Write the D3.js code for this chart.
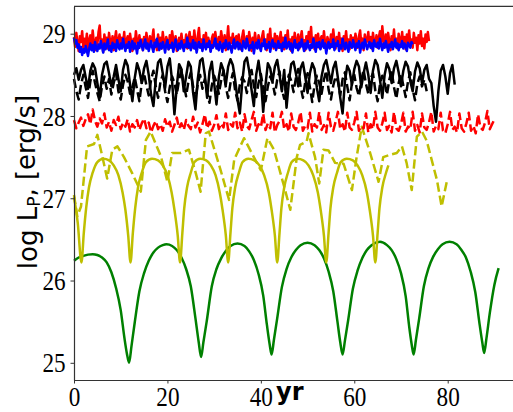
<!DOCTYPE html>
<html>
<head>
<meta charset="utf-8">
<script src="https://cdn.jsdelivr.net/npm/d3@7"></script>
<style>
  body { margin: 0; background: #fff; }
  svg { display: block; }
</style>
</head>
<body>
<svg id="chart" width="513" height="412"></svg>
<script>
// red / blue solid runs are sampled every quarter year, the other noisy runs every half year
const stepFine = 0.25;
const step = 0.5;

const redSolid = [
  28.96, 28.84, 29.01, 28.88, 28.79, 28.97, 28.90, 29.03, 28.83, 28.94, 28.86, 29.00, 28.81, 28.92, 28.98, 28.85, 29.04, 28.89, 28.80, 28.95,
  28.87, 29.02, 29.10, 28.84, 28.93, 28.78, 28.99, 28.88, 28.95, 28.82, 29.01, 28.90, 28.85, 28.97, 28.80, 28.93, 29.03, 28.86, 28.91, 28.99,
  28.83, 28.95, 28.88, 29.02, 28.81, 28.92, 28.97, 28.84, 29.00, 28.89, 28.79, 28.94, 28.86, 29.03, 28.91, 28.82, 28.98, 28.87, 28.93, 28.80,
  28.96, 28.85, 29.01, 28.90, 28.83, 28.97, 28.88, 28.94, 29.05, 28.84, 28.92, 28.80, 28.99, 28.87, 28.95, 28.82, 29.02, 28.89, 28.85, 28.96,
  28.91, 28.81, 28.98, 28.86, 29.03, 28.93, 28.84, 28.97, 28.79, 28.90, 28.95, 28.83, 29.00, 28.88, 28.92, 28.85, 28.99, 28.82, 28.94, 29.02,
  28.87, 28.96, 28.83, 29.04, 28.90, 28.80, 28.97, 29.07, 28.86, 28.93, 28.81, 28.98, 28.89, 29.01, 28.84, 28.95, 28.88, 28.79, 28.94, 28.99,
  28.85, 29.02, 28.91, 28.82, 28.96, 28.87, 29.03, 28.93, 28.84, 28.98, 28.80, 28.92, 29.09, 28.86, 28.95, 28.89, 29.00, 28.83, 28.94, 28.97,
  28.85, 28.99, 28.88, 28.81, 28.96, 29.04, 28.90, 28.84, 28.97, 28.87, 29.02, 28.92, 28.79, 28.95, 28.86, 29.01, 28.89, 28.83, 28.98, 28.91,
  28.84, 28.96, 29.03, 28.87, 28.93, 28.80, 28.99, 28.90, 29.06, 28.85, 28.94, 28.82, 29.00, 28.88, 28.97, 28.83, 28.92, 29.02, 28.86, 28.95,
  28.81, 28.98, 28.89, 29.04, 28.85, 28.93, 28.79, 28.96, 28.87, 29.01, 28.91, 28.84, 28.99, 28.82, 28.94, 29.03, 28.88, 28.92, 28.80, 28.97,
  28.86, 29.02, 28.90, 29.08, 28.84, 28.95, 28.81, 28.98, 28.88, 29.00, 28.83, 28.93, 28.97, 28.85, 29.03, 28.89, 28.80, 28.96, 28.91, 28.84,
  28.99, 28.87, 29.05, 28.92, 28.82, 28.96, 28.88, 29.01, 28.85, 28.94, 28.79, 28.97, 28.90, 29.03, 28.86, 28.93, 28.81, 28.98, 28.89, 28.95,
  28.84, 29.00, 28.91, 28.83, 28.97, 29.04, 28.87, 28.94, 28.80, 28.99, 28.88, 28.92, 29.02, 28.85, 28.96, 28.82, 29.01, 28.90, 28.86, 28.98,
  28.83, 28.95, 29.03, 28.88, 29.09, 28.93, 28.84, 28.99, 28.86, 29.01, 28.91, 28.80, 28.97, 28.89, 29.05, 28.85, 28.94, 28.82, 29.00, 28.92,
  28.87, 29.02, 28.84, 28.96, 28.81, 28.99, 28.90, 29.04, 28.86, 28.93, 28.83, 29.01, 28.89, 28.95, 28.80, 28.98, 28.88, 29.03, 28.85, 28.94,
  28.82, 28.99, 28.90, 29.02, 28.91
];

const blueSolid = [
  28.95, 28.88, 28.92, 28.83, 28.87, 28.78, 28.84, 28.74, 28.81, 28.77, 28.85, 28.79, 28.73, 28.82, 28.88, 28.80, 28.86, 28.78, 28.90, 28.83,
  28.79, 28.87, 28.82, 28.91, 28.84, 28.77, 28.88, 28.81, 28.86, 28.93, 28.80, 28.85, 28.78, 28.89, 28.83, 28.87, 28.79, 28.92, 28.84, 28.81,
  28.88, 28.82, 28.94, 28.85, 28.79, 28.87, 28.83, 28.90, 28.78, 28.86, 28.91, 28.81, 28.88, 28.84, 28.76, 28.89, 28.83, 28.92, 28.86, 28.80,
  28.87, 28.93, 28.82, 28.88, 28.79, 28.85, 28.91, 28.83, 28.78, 28.89, 28.84, 28.94, 28.86, 28.80, 28.88, 28.82, 28.90, 28.85, 28.77, 28.87,
  28.92, 28.81, 28.86, 28.83, 28.89, 28.78, 28.85, 28.93, 28.84, 28.80, 28.88, 28.82, 28.91, 28.86, 28.79, 28.87, 28.84, 28.95, 28.83, 28.88,
  28.80, 28.86, 28.92, 28.82, 28.89, 28.77, 28.85, 28.90, 28.83, 28.87, 28.79, 28.93, 28.85, 28.81, 28.88, 28.84, 28.91, 28.78, 28.86, 28.83,
  28.89, 28.94, 28.82, 28.87, 28.80, 28.90, 28.85, 28.78, 28.88, 28.83, 28.92, 28.86, 28.81, 28.89, 28.84, 28.77, 28.87, 28.93, 28.82, 28.86,
  28.90, 28.81, 28.88, 28.84, 28.79, 28.91, 28.85, 28.82, 28.94, 28.87, 28.80, 28.86, 28.83, 28.90, 28.76, 28.85, 28.89, 28.82, 28.92, 28.84,
  28.79, 28.88, 28.85, 28.93, 28.81, 28.87, 28.83, 28.90, 28.78, 28.86, 28.92, 28.84, 28.88, 28.80, 28.85, 28.91, 28.83, 28.87, 28.79, 28.89,
  28.84, 28.95, 28.82, 28.86, 28.90, 28.81, 28.88, 28.77, 28.85, 28.92, 28.83, 28.87, 28.80, 28.89, 28.84, 28.93, 28.86, 28.79, 28.88, 28.82,
  28.91, 28.85, 28.80, 28.87, 28.83, 28.94, 28.86, 28.78, 28.89, 28.84, 28.90, 28.81, 28.86, 28.92, 28.83, 28.88, 28.76, 28.85, 28.90, 28.82,
  28.87, 28.84, 28.93, 28.80, 28.88, 28.85, 28.91, 28.79, 28.86, 28.82, 28.94, 28.87, 28.81, 28.89, 28.84, 28.78, 28.90, 28.85, 28.83, 28.92,
  28.86, 28.80, 28.88, 28.84, 28.91, 28.77, 28.85, 28.89, 28.82, 28.93, 28.87, 28.81, 28.86, 28.90, 28.83, 28.88, 28.79, 28.92, 28.85, 28.84,
  28.89, 28.82, 28.94, 28.86, 28.80, 28.88, 28.83, 28.91, 28.85, 28.78, 28.87, 28.84, 28.90, 28.81, 28.86, 28.93, 28.83, 28.88, 28.80, 28.87,
  28.84, 28.91, 28.82, 28.88, 28.85, 28.79, 28.89, 28.86, 28.83, 28.90, 28.87
];

const blackSolid = [
  28.50, 28.58, 28.44, 28.56, 28.62, 28.47, 28.33, 28.55, 28.64, 28.58,
  28.40, 28.22, 28.50, 28.63, 28.66, 28.52, 28.36, 28.48, 28.62, 28.45,
  28.30, 28.56, 28.68, 28.61, 28.38, 28.18, 28.46, 28.64, 28.55, 28.40,
  28.58, 28.67, 28.50, 28.26, 28.12, 28.44, 28.65, 28.69, 28.52, 28.34,
  28.60, 28.70, 28.42, 28.02, 28.36, 28.63, 28.57, 28.30, 28.48, 28.66,
  28.60, 28.28, 28.08, 28.45, 28.67, 28.70, 28.50, 28.22, 28.54, 28.66,
  28.40, 28.14, 28.47, 28.64, 28.56, 28.38, 28.60, 28.69, 28.62, 28.44,
  28.20, 28.03, 28.40, 28.66, 28.71, 28.55, 28.32, 28.12, 28.50, 28.67,
  28.46, 28.05, 28.38, 28.64, 28.58, 28.42, 28.60, 28.68, 28.50, 28.30,
  28.56, 28.10, 28.42, 28.63, 28.66, 28.52, 28.36, 28.58, 28.65, 28.48,
  28.28, 28.52, 28.64, 28.57, 28.34, 28.18, 28.48, 28.62, 28.68, 28.54,
  28.40, 28.58, 28.66, 28.46, 28.22, 28.03, 28.42, 28.61, 28.55, 28.38,
  28.57, 28.67, 28.60, 28.35, 28.52, 28.65, 28.50, 28.28, 28.55, 28.68,
  28.62, 28.44, 28.22, 28.50, 28.64, 28.57, 28.40, 28.58, 28.67, 28.53,
  28.36, 28.55, 28.66, 28.60, 28.42, 28.30, 28.54, 28.65, 28.58, 28.40,
  28.56, 28.62, 28.45, 28.40, 28.12, 27.93, 28.30, 28.55, 28.62, 28.48,
  28.27, 28.52, 28.62, 28.38
];

const blackDashed = [
  28.45, 28.30, 28.20, 28.38, 28.50, 28.35, 28.22, 28.42, 28.55, 28.40,
  28.28, 28.18, 28.36, 28.48, 28.33, 28.45, 28.26, 28.40, 28.52, 28.30,
  28.20, 28.38, 28.50, 28.42, 28.27, 28.35, 28.47, 28.32, 28.18, 28.40,
  28.52, 28.37, 28.25, 28.44, 28.55, 28.36, 28.22, 28.41, 28.50, 28.30,
  28.17, 28.35, 28.48, 28.40, 28.26, 28.44, 28.56, 28.38, 28.24, 28.42,
  28.53, 28.36, 28.20, 28.39, 28.50, 28.33, 28.45, 28.28, 28.16, 28.37,
  28.49, 28.41, 28.27, 28.43, 28.55, 28.35, 28.22, 28.40, 28.52, 28.31,
  28.19, 28.38, 28.47, 28.42, 28.28, 28.45, 28.56, 28.37, 28.23, 28.40,
  28.51, 28.34, 28.18, 28.36, 28.48, 28.41, 28.26, 28.44, 28.54, 28.33,
  28.21, 28.39, 28.50, 28.43, 28.29, 28.46, 28.57, 28.36, 28.22, 28.41,
  28.52, 28.35, 28.17, 28.38, 28.49, 28.40, 28.27, 28.44, 28.55, 28.32,
  28.20, 28.37, 28.48, 28.42, 28.25, 28.45, 28.53, 28.36, 28.19, 28.40,
  28.50, 28.34, 28.24, 28.43, 28.56, 28.39, 28.27, 28.45, 28.52, 28.31,
  28.18, 28.38, 28.49, 28.41, 28.26, 28.44, 28.55, 28.35, 28.21, 28.40,
  28.51, 28.37, 28.23, 28.42, 28.53, 28.33, 28.19, 28.39, 28.48, 28.36,
  28.44, 28.30
];

const redDashed = [
  27.95, 27.85, 27.92, 27.98, 27.88, 27.96, 28.02, 27.90, 28.08, 27.94,
  27.87, 27.97, 27.91, 28.03, 27.86, 27.93, 27.82, 27.95, 27.89, 27.99,
  27.84, 27.92, 27.87, 27.96, 27.81, 27.90, 27.86, 27.95, 27.83, 27.91,
  27.97, 27.85, 27.92, 27.80, 27.88, 27.94, 27.84, 27.90, 27.82, 27.96,
  27.87, 27.93, 27.81, 27.89, 27.98, 27.85, 27.91, 27.83, 27.95, 27.88,
  27.84, 27.99, 27.86, 27.92, 27.80, 27.90, 28.02, 27.85, 27.93, 27.82,
  27.89, 28.01, 27.84, 27.91, 27.86, 28.03, 27.83, 27.90, 27.87, 28.04,
  27.85, 27.92, 27.81, 28.02, 27.88, 27.84, 27.95, 28.05, 27.82, 27.90,
  27.86, 28.03, 27.83, 27.91, 27.85, 28.04, 27.80, 27.89, 27.94, 28.05,
  27.84, 27.90, 27.81, 28.03, 27.87, 27.83, 27.92, 28.05, 27.82, 27.88,
  27.85, 28.04, 27.81, 27.90, 27.86, 28.05, 27.83, 27.89, 27.80, 28.04,
  27.87, 27.82, 27.93, 28.05, 27.84, 27.90, 27.81, 28.04, 27.86, 27.83,
  27.92, 28.05, 27.82, 27.88, 27.85, 28.03, 27.80, 27.90, 27.84, 28.05,
  27.86, 27.82, 27.91, 28.04, 27.83, 27.88, 27.80, 28.05, 27.85, 27.82,
  27.90, 28.04, 27.81, 27.87, 27.84, 28.05, 27.82, 27.89, 27.80, 28.03,
  27.86, 27.83, 27.92, 28.05, 27.81, 27.88, 27.84, 28.04, 27.82, 27.79,
  27.90, 28.05, 27.83, 27.87, 27.80, 28.03, 27.85, 27.81, 27.91, 28.04,
  27.82, 27.88, 27.79, 28.02, 27.86, 27.83, 27.92, 28.06, 27.84, 27.90,
  27.96
];

// smooth runs, read as [yr, log L] pairs
const yellowSolid = [
  [0, 27.02], [0.8, 26.70], [1.6, 26.22],
  [2.1, 26.58], [2.6, 26.88], [3.2, 27.13], [4.0, 27.31], [5.0, 27.44], [6.3, 27.48],
  [7.5, 27.46], [8.5, 27.40], [9.5, 27.28], [10.4, 27.07], [11.0, 26.86], [11.6, 26.55], [12.1, 26.22],
  [12.6, 26.58], [13.1, 26.88], [13.7, 27.13], [14.5, 27.31], [15.4, 27.44], [16.7, 27.48],
  [18.0, 27.46], [19.0, 27.40], [20.0, 27.28], [20.9, 27.07], [21.5, 26.86], [22.2, 26.55], [22.7, 26.22],
  [23.2, 26.58], [23.6, 26.88], [24.2, 27.13], [25.0, 27.31], [25.8, 27.44], [27.0, 27.48],
  [28.3, 27.46], [29.3, 27.40], [30.3, 27.28], [31.2, 27.07], [31.8, 26.86], [32.5, 26.55], [33.0, 26.22],
  [33.5, 26.58], [33.9, 26.88], [34.5, 27.13], [35.3, 27.31], [36.1, 27.44], [37.3, 27.48],
  [38.6, 27.46], [39.7, 27.40], [40.7, 27.28], [41.7, 27.07], [42.3, 26.86], [43.0, 26.55], [43.5, 26.22],
  [44.0, 26.58], [44.4, 26.88], [45.0, 27.13], [45.8, 27.31], [46.6, 27.44], [47.8, 27.48],
  [49.1, 27.46], [50.2, 27.40], [51.2, 27.28], [52.2, 27.07], [52.8, 26.86], [53.5, 26.55], [54.0, 26.22],
  [54.5, 26.58], [54.9, 26.88], [55.5, 27.13], [56.3, 27.31], [57.1, 27.44], [58.4, 27.48],
  [59.7, 27.46], [60.7, 27.40], [61.7, 27.28], [62.7, 27.07], [63.3, 26.86], [64.0, 26.55], [64.5, 26.22],
  [65.0, 26.58], [65.4, 26.88], [66.0, 27.13], [66.8, 27.31], [67.3, 27.40]
];

const yellowDashed = [
  [0, 27.04], [0.7, 26.78], [1.5, 26.90], [2.8, 27.63], [4.3, 27.66], [5.0, 27.77],
  [6.1, 27.50], [7.1, 27.24], [8.2, 27.59], [9.3, 27.63], [10.7, 27.50], [12.5, 27.30],
  [14.3, 27.08], [15.4, 27.71], [16.4, 27.81], [18.6, 27.51], [20.0, 27.20], [21.0, 27.55],
  [22.8, 27.55], [24.6, 27.59], [26.1, 27.30], [27.1, 27.08], [28.2, 27.79], [28.9, 27.81],
  [31.4, 27.34], [33.2, 26.98], [34.3, 27.47], [36.4, 27.73], [38.5, 27.50], [40.0, 27.34],
  [41.4, 27.73], [42.8, 27.59], [45.0, 27.14], [46.3, 26.86], [47.7, 27.50], [48.4, 27.65],
  [49.8, 27.69], [50.2, 27.79], [51.6, 27.50], [52.5, 27.18], [53.4, 27.59], [54.5, 27.58],
  [55.9, 27.43], [57.7, 27.42], [59.5, 27.10], [60.5, 27.50], [61.6, 27.87], [63.4, 27.55],
  [65.2, 27.20], [66.2, 27.50], [67.7, 27.53], [69.1, 27.55], [70.2, 27.63], [71.2, 27.43],
  [72.3, 27.10], [73.4, 27.75], [74.5, 27.81], [75.5, 27.70], [77.7, 27.22], [78.7, 26.90],
  [79.8, 27.20]
];

const greenSolid = [
  [0, 26.24], [1, 26.28], [2, 26.30], [3, 26.315], [4, 26.32], [5, 26.31], [6, 26.28],
  [7, 26.22], [8, 26.10], [9, 25.91], [10, 25.64], [10.8, 25.30], [11.3, 25.12], [11.8, 25.00],
  [12.3, 25.20], [13, 25.49], [14, 25.87], [15, 26.09], [16, 26.24], [17, 26.34], [18, 26.40], [19, 26.43], [19.8, 26.44],
  [21, 26.42], [22, 26.37], [23, 26.28], [24, 26.14], [25, 25.93], [26, 25.54], [26.7, 25.25], [27.2, 25.07],
  [27.7, 25.25], [28.4, 25.50], [29.5, 25.93], [30.5, 26.14], [31.5, 26.27], [32.5, 26.36], [33.5, 26.42], [35, 26.45],
  [36.5, 26.42], [37.5, 26.355], [38.5, 26.25], [39.5, 26.08], [40.5, 25.82], [41.3, 25.46], [41.9, 25.22], [42.3, 25.10],
  [42.8, 25.28], [43.5, 25.54], [44.5, 25.92], [45.5, 26.14], [46.5, 26.28], [47.5, 26.37], [48.5, 26.43], [50, 26.46],
  [51.5, 26.43], [52.5, 26.37], [53.5, 26.27], [54.5, 26.11], [55.5, 25.87], [56.4, 25.50], [57, 25.25], [57.5, 25.10],
  [58, 25.27], [58.7, 25.52], [59.7, 25.90], [60.7, 26.12], [61.7, 26.27], [62.7, 26.37], [63.7, 26.43], [65.5, 26.47],
  [67, 26.43], [68, 26.37], [69, 26.26], [70, 26.09], [71, 25.81], [71.8, 25.42], [72.3, 25.22], [72.7, 25.10],
  [73.2, 25.28], [73.9, 25.54], [74.9, 25.93], [75.9, 26.15], [76.9, 26.29], [77.9, 26.38], [78.9, 26.44], [80.4, 26.47],
  [81.9, 26.44], [82.9, 26.375], [83.9, 26.28], [84.9, 26.11], [85.9, 25.86], [86.8, 25.48], [87.4, 25.25], [87.8, 25.12],
  [88.3, 25.30], [89, 25.60], [90, 25.95], [90.9, 26.15]
];

const xTicks = [0, 20, 40, 60, 80];
const yTicks = [25, 26, 27, 28, 29];

const svg = d3.select("#chart");

// plot box: left spine at 74px, bottom at 380px, top at 6.3px; right side runs off the picture
const x = d3.scaleLinear().domain([0, 94]).range([74, 513.1]);
const y = d3.scaleLinear().domain([24.791, 29.333]).range([380, 6.3]);

const sampled = (arr, dt) => arr.map((v, i) => [i * dt, v]);

const line = d3.line().x(d => x(d[0])).y(d => y(d[1]));
const smooth = d3.line().x(d => x(d[0])).y(d => y(d[1])).curve(d3.curveMonotoneX);

const series = [
  { pts: greenSolid, color: "#008000", gen: smooth },
  { pts: yellowSolid, color: "#bfbf00", gen: smooth },
  { pts: yellowDashed, color: "#bfbf00", gen: line, dash: "9.25,4" },
  { pts: sampled(redDashed, step), color: "#ff0000", gen: line, dash: "9.25,4" },
  { pts: sampled(blackDashed, step), color: "#000000", gen: line, dash: "9.25,4" },
  { pts: sampled(blackSolid, step), color: "#000000", gen: line },
  { pts: sampled(redSolid, stepFine), color: "#ff0000", gen: line },
  { pts: sampled(blueSolid, stepFine), color: "#0000ff", gen: line }
];

svg.append("g")
  .selectAll("path")
  .data(series)
  .join("path")
  .attr("d", d => d.gen(d.pts))
  .attr("fill", "none")
  .attr("stroke", d => d.color)
  .attr("stroke-width", 2.5)
  .attr("stroke-linejoin", "round")
  .attr("stroke-dasharray", d => d.dash || null);

// axes; tick digits are narrowed a bit to look like the TeX digits
const fmt = d3.format("d");
const squeeze = 0.86;
const yAxis = d3.axisLeft(y).tickValues(yTicks).tickFormat(fmt).tickSize(3.5).tickSizeOuter(0).tickPadding(4.8);
const xAxis = d3.axisBottom(x).tickValues(xTicks).tickFormat(fmt).tickSize(3.5).tickSizeOuter(0).tickPadding(3);

const gy = svg.append("g").attr("transform", "translate(74,0)").call(yAxis);
const gx = svg.append("g").attr("transform", "translate(0,380)").call(xAxis);

[gx, gy].forEach(g => {
  g.attr("font-family", "'Liberation Serif', 'DejaVu Serif', serif").attr("font-size", 27);
  g.select(".domain").attr("stroke", "#333").attr("stroke-width", 1.2);
  g.selectAll(".tick line").attr("stroke", "#333").attr("stroke-width", 1);
  g.selectAll(".tick text").attr("fill", "#000").attr("transform", `scale(${squeeze},1)`);
});
gy.selectAll(".tick text").attr("x", -8.3 / squeeze).attr("dy", "0.34em");

// top spine
svg.append("line")
  .attr("x1", 74).attr("x2", 513)
  .attr("y1", y.range()[1]).attr("y2", y.range()[1])
  .attr("stroke", "#333").attr("stroke-width", 1.2);

// axis titles
svg.append("text")
  .attr("x", 276).attr("y", 400)
  .attr("font-family", "'DejaVu Sans', sans-serif")
  .attr("font-weight", "bold")
  .attr("font-size", 24)
  .text("yr");

const ylab = svg.append("text")
  .attr("transform", "translate(37,182) rotate(-90)")
  .attr("text-anchor", "middle")
  .attr("font-family", "'DejaVu Sans', sans-serif")
  .attr("font-size", 26);
ylab.append("tspan").text("log L");
ylab.append("tspan").attr("dy", "0.2em").attr("font-size", 17).text("P");
ylab.append("tspan").attr("dy", "-0.2em").text(", [erg/s]");
</script>
</body>
</html>
